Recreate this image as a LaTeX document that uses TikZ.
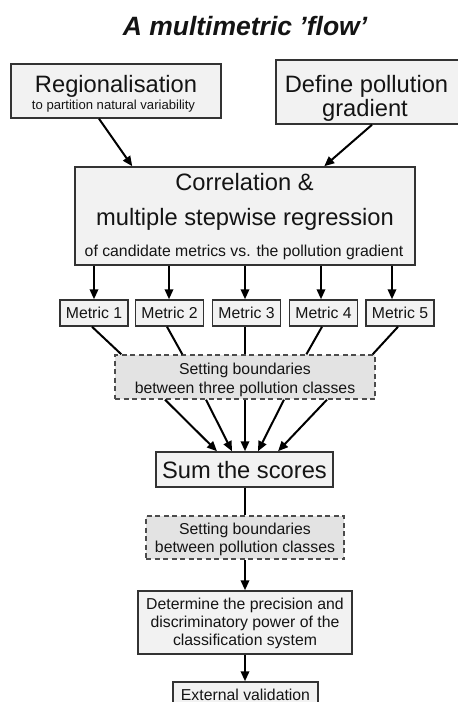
\documentclass[tikz,border=0pt]{standalone}
\usepackage{fontspec}
\setmainfont{Liberation Sans}
\usetikzlibrary{arrows.meta,calc}
\tikzset{
  box/.style={draw=black!80, line width=1.5pt, fill=black!5, inner sep=0pt},
  dbox/.style={draw=black!70, line width=1.3pt, fill=black!11, dash pattern=on 5pt off 3.5pt, inner sep=0pt},
  txt/.style={anchor=base, inner sep=0pt, text=black!92},
  big/.style={font=\fontsize{23.7}{28}\selectfont},
  mid/.style={font=\fontsize{15.8}{19}\selectfont},
  sml/.style={font=\fontsize{13.1}{16}\selectfont},
  arr/.style={line width=2pt, -{Triangle[length=10pt,width=8.5pt]}},
  ln/.style={line width=2pt}
}
\begin{document}
\begin{tikzpicture}[x=1pt,y=-1pt]
\useasboundingbox (0,0) rectangle (458,702);
% title
\node[txt, font=\fontsize{26.5}{30}\selectfont\bfseries\itshape] (title) at (245,35) {A multimetric ’flow’};
% boxes
\node[box, minimum width=210pt, minimum height=54pt] (reg) at (116,91) {};
\node[box, minimum width=186pt, minimum height=64pt] (def) at (369,92) {};
\node[box, minimum width=340pt, minimum height=98pt] (corr) at (245,216) {};
\foreach \i/\x in {1/94,2/169.5,3/246.5,4/323.5,5/400}{
  \node[box, mid, text=black!92, minimum width=68pt, minimum height=26pt] (m\i) at (\x,313) {Metric \i};
}
\node[dbox, minimum width=260pt, minimum height=44pt] (set1) at (245,377) {};
\node[box, minimum width=177pt, minimum height=35pt] (sum) at (244.5,469.5) {};
\node[dbox, minimum width=198pt, minimum height=43pt] (set2) at (245,537.5) {};
\node[box, minimum width=214pt, minimum height=63pt] (det) at (245,622.5) {};
\node[box, minimum width=145pt, minimum height=30pt] (ext) at (245.5,697) {};
% texts
\node[txt, big] (regt) at (116,92) {Regionalisation};
\node[txt, sml] (regs) at (113.5,109) {to partition natural variability};
\node[txt, big] (deft1) at (366.5,92) {Define pollution};
\node[txt, big] (deft2) at (365,116) {gradient};
\node[txt, big] (corrt1) at (244.5,190) {Correlation \&};
\node[txt, big] (corrt2) at (245,225) {multiple stepwise regression};
\node[txt, mid] (corrt3) at (244,256) {of candidate metrics vs. the pollution gradient};
\node[txt, mid] (set1a) at (245,374) {Setting boundaries};
\node[txt, mid] (set1b) at (245,393) {between three pollution classes};
\node[txt, big] (sumt) at (244.5,478) {Sum the scores};
\node[txt, mid] (set2a) at (245,534) {Setting boundaries};
\node[txt, mid] (set2b) at (245,552) {between pollution classes};
\node[txt, mid] (det1) at (245,609) {Determine the precision and};
\node[txt, mid] (det2) at (245,627) {discriminatory power of the};
\node[txt, mid] (det3) at (245,645) {classification system};
\node[txt, mid] (extt) at (245.5,700) {External validation};
% connectors
\draw[arr] ($(reg.south)+(-17,0)$) -- ($(corr.north west)+(58,0)$);
\draw[arr] ($(def.south)+(3,0)$) -- ($(corr.north west)+(250,0)$);
\foreach \i/\x in {1/94,2/169,3/245,4/321,5/392}{
  \draw[arr] (corr.south -| \x,0) -- (m\i.north -| \x,0);
}
\draw[ln] ($(m1.south)+(-2,0)$) -- ($(set1.north west)+(7,0)$);
\draw[ln] ($(m2.south)+(-2.5,0)$) -- ($(set1.north west)+(68,0)$);
\draw[ln] (m3.south -| set1.north) -- (set1.north);
\draw[ln] ($(m4.south)+(-1.5,0)$) -- ($(set1.north west)+(192,0)$);
\draw[ln] ($(m5.south)+(-2,0)$) -- ($(set1.north east)+(-3,0)$);
\foreach \a/\b in {-80/-28,-39/-13,0/0,39/13,82/33}{
  \draw[arr] ($(set1.south)+(\a,0)$) -- ($(sum.north)+(\b+0.5,0)$);
}
\draw[ln] (sum.south -| set2.north) -- (set2.north);
\draw[arr] (set2.south) -- (det.north);
\draw[arr] (det.south) -- (ext.north -| det.south);
\end{tikzpicture}
\end{document}
